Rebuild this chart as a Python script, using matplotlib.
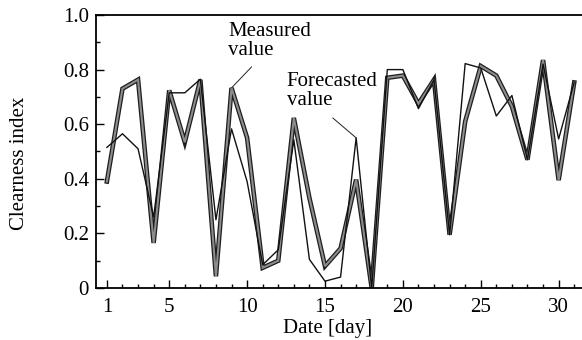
import matplotlib
matplotlib.use("Agg")
import matplotlib.pyplot as plt
import matplotlib.patheffects as pe
from matplotlib.ticker import FixedLocator, MultipleLocator

plt.rcParams["font.family"] = ["Liberation Serif", "DejaVu Serif"]

# ── data ─────────────────────────────────────────────────────────────────────
days = list(range(1, 32))
measured = [0.39, 0.73, 0.763, 0.165, 0.724, 0.534, 0.763, 0.043, 0.733, 0.55,
            0.074, 0.10, 0.623, 0.33, 0.08, 0.145, 0.397, 0.0, 0.77, 0.778,
            0.675, 0.763, 0.195, 0.61, 0.813, 0.778, 0.665, 0.47, 0.835, 0.395,
            0.753]
forecast = [0.515, 0.565, 0.51, 0.26, 0.715, 0.715, 0.765, 0.25, 0.583, 0.39,
            0.085, 0.14, 0.543, 0.105, 0.025, 0.04, 0.55, 0.0, 0.80, 0.80,
            0.657, 0.763, 0.195, 0.822, 0.806, 0.63, 0.705, 0.47, 0.82, 0.546,
            0.753]
x_ticks = [1, 5, 10, 15, 20, 25, 30]
y_ticks = [0, 0.2, 0.4, 0.6, 0.8, 1.0]
y_labels = ["0", "0.2", "0.4", "0.6", "0.8", "1.0"]

fig = plt.figure(figsize=(5.82, 3.4), dpi=100)
ax = fig.add_axes([96 / 582, 52 / 340, 486 / 582, 273 / 340])

# measured: thick grey band with dark edges
ax.plot(days, measured, color="#8c8c8c", lw=1.5, solid_joinstyle="miter",
        path_effects=[pe.Stroke(linewidth=3.3, foreground="#1e1e1e"), pe.Normal()],
        zorder=2)
# forecasted: thin black line
ax.plot(days, forecast, color="#111111", lw=1.0, zorder=3)

ax.set_xlim(0.3, 31.5)
ax.set_ylim(0, 1.0)

ax.xaxis.set_major_locator(FixedLocator(x_ticks))
ax.xaxis.set_minor_locator(MultipleLocator(1))
ax.set_yticks(y_ticks)
ax.set_yticklabels(y_labels)
ax.yaxis.set_minor_locator(MultipleLocator(0.1))
ax.tick_params(which="both", direction="in", top=False, right=False,
               labelsize=15, width=1.0)
ax.tick_params(axis="x", which="major", length=6, pad=7)
ax.tick_params(axis="x", which="minor", length=3)
ax.tick_params(axis="y", which="major", length=6, pad=5)
ax.tick_params(axis="y", which="minor", length=3)

ax.spines["right"].set_visible(False)
for s in ("left", "bottom", "top"):
    ax.spines[s].set_linewidth(1.3)

ax.set_xlabel("Date [day]", fontsize=15)
ax.xaxis.set_label_coords(0.477, -0.112)
ax.set_ylabel("Clearness index", fontsize=15)
ax.yaxis.set_label_coords(-0.137, 0.455)

# annotations
ax.text(8.77, 0.975, "Measured\nvalue", fontsize=15, ha="left", va="top",
        linespacing=1.0)
ax.annotate("", xy=(days[8], measured[8]), xytext=(10.29, 0.81),
            arrowprops=dict(arrowstyle="-", lw=0.7, color="#222222",
                            shrinkA=0, shrinkB=0))
ax.text(12.55, 0.79, "Forecasted\nvalue", fontsize=15, ha="left", va="top",
        linespacing=1.0)
ax.annotate("", xy=(days[16], forecast[16]), xytext=(15.5, 0.623),
            arrowprops=dict(arrowstyle="-", lw=0.7, color="#222222",
                            shrinkA=0, shrinkB=0))

plt.savefig("out.png", dpi=100)
plt.close()
